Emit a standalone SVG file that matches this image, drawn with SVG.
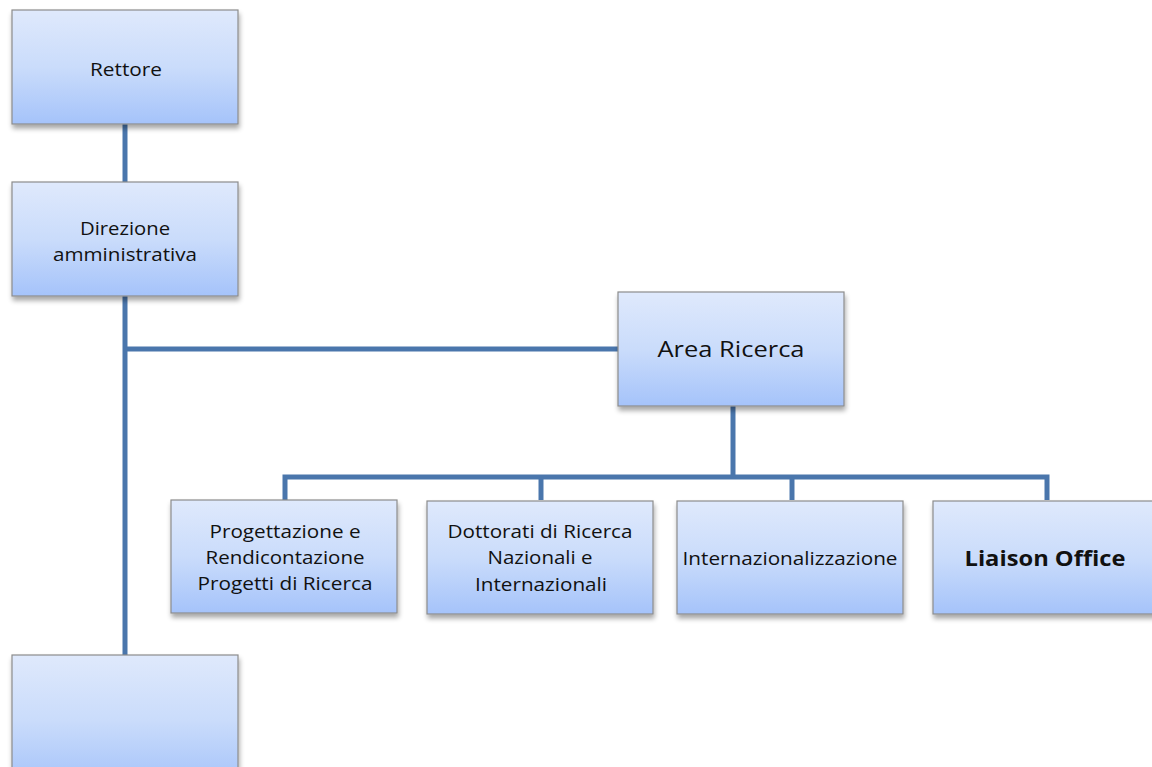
<svg xmlns="http://www.w3.org/2000/svg" width="1152" height="767" viewBox="0 0 1152 767">
  <defs>
    <linearGradient id="boxFill" x1="0" y1="0" x2="0" y2="1">
      <stop offset="0" stop-color="#dfe9fc"/>
      <stop offset="0.5" stop-color="#cadcfb"/>
      <stop offset="1" stop-color="#a5c3fa"/>
    </linearGradient>
    <filter id="shadow" x="-10%" y="-10%" width="125%" height="130%">
      <feGaussianBlur in="SourceAlpha" stdDeviation="2.5"/>
      <feOffset dx="1" dy="4" result="blur"/>
      <feComponentTransfer><feFuncA type="linear" slope="0.35"/></feComponentTransfer>
      <feMerge><feMergeNode/><feMergeNode in="SourceGraphic"/></feMerge>
    </filter>
  </defs>
  <style>
    .box { fill: url(#boxFill); stroke: #8c8c8c; stroke-width: 1.2; filter: url(#shadow); }
    .lbl { font-family: "Open Sans", "Liberation Sans", sans-serif; fill: #111; text-anchor: middle; }
    .sm { font-size: 18px; }
    .lg { font-size: 22px; }
    .bold { font-weight: bold; }
    .conn { stroke: #4a76ac; stroke-width: 5; fill: none; }
  </style>
  <rect width="1152" height="767" fill="#ffffff"/>

  <g id="connectors">
    <line class="conn" x1="125" y1="124" x2="125" y2="182"/>
    <line class="conn" x1="125" y1="296" x2="125" y2="655"/>
    <line class="conn" x1="125" y1="349" x2="618" y2="349"/>
    <line class="conn" x1="733" y1="406" x2="733" y2="477"/>
    <polyline class="conn" points="285,500 285,477 1047,477 1047,500"/>
    <line class="conn" x1="541" y1="477" x2="541" y2="500"/>
    <line class="conn" x1="792" y1="477" x2="792" y2="500"/>
  </g>

  <g id="rettore">
    <rect class="box" x="12" y="10" width="226" height="114"/>
    <text class="lbl sm" x="126" y="76" textLength="72" lengthAdjust="spacingAndGlyphs">Rettore</text>
  </g>

  <g id="direzione">
    <rect class="box" x="12" y="182" width="226" height="114"/>
    <text class="lbl sm" x="125" y="235" textLength="90" lengthAdjust="spacingAndGlyphs">Direzione</text>
    <text class="lbl sm" x="125" y="261" textLength="144" lengthAdjust="spacingAndGlyphs">amministrativa</text>
  </g>

  <g id="area-ricerca">
    <rect class="box" x="618" y="292" width="226" height="114"/>
    <text class="lbl lg" x="731" y="357" textLength="147" lengthAdjust="spacingAndGlyphs">Area Ricerca</text>
  </g>

  <g id="progettazione">
    <rect class="box" x="171" y="500" width="226" height="113"/>
    <text class="lbl sm" x="285" y="538" textLength="151" lengthAdjust="spacingAndGlyphs">Progettazione e</text>
    <text class="lbl sm" x="285" y="564" textLength="159" lengthAdjust="spacingAndGlyphs">Rendicontazione</text>
    <text class="lbl sm" x="285" y="590" textLength="175" lengthAdjust="spacingAndGlyphs">Progetti di Ricerca</text>
  </g>

  <g id="dottorati">
    <rect class="box" x="427" y="501" width="226" height="113"/>
    <text class="lbl sm" x="540" y="538" textLength="185" lengthAdjust="spacingAndGlyphs">Dottorati di Ricerca</text>
    <text class="lbl sm" x="540" y="564" textLength="105" lengthAdjust="spacingAndGlyphs">Nazionali e</text>
    <text class="lbl sm" x="541" y="591" textLength="132" lengthAdjust="spacingAndGlyphs">Internazionali</text>
  </g>

  <g id="internazionalizzazione">
    <rect class="box" x="677" y="501" width="226" height="113"/>
    <text class="lbl sm" x="790" y="565" textLength="215" lengthAdjust="spacingAndGlyphs">Internazionalizzazione</text>
  </g>

  <g id="liaison-office">
    <rect class="box" x="933" y="501" width="226" height="113"/>
    <text class="lbl lg bold" x="1045" y="566" textLength="161" lengthAdjust="spacingAndGlyphs">Liaison Office</text>
  </g>

  <g id="ufficio-vuoto">
    <rect class="box" x="12" y="655" width="226" height="130"/>
  </g>
</svg>
